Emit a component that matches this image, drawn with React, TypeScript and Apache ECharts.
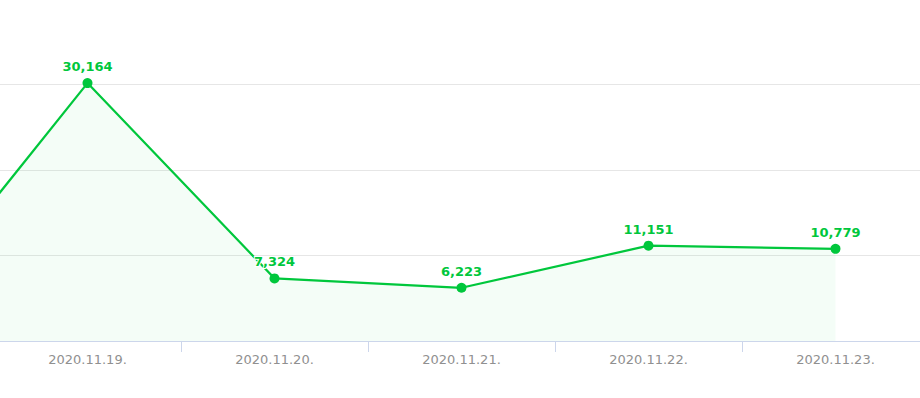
import React, { useEffect, useRef } from "react";
import * as echarts from "echarts";

const categories = ["2020.11.18.", "2020.11.19.", "2020.11.20.", "2020.11.21.", "2020.11.22.", "2020.11.23."];
const values = [2850, 30164, 7324, 6223, 11151, 10779];
const yMin = 0;
const yMax = 40000;
const yInterval = 10000;

export default function App() {
  const ref = useRef<HTMLDivElement>(null);
  useEffect(() => {
    document.body.style.margin = "0";
    const chart = echarts.init(ref.current!, null, { renderer: "svg" });
    chart.setOption({
      animation: false,
      grid: { left: 0, right: 0, top: 0, bottom: 57 },
      xAxis: {
        type: "category",
        data: categories,
        boundaryGap: true,
        axisLine: { lineStyle: { color: "#ccd6eb", width: 1 } },
        axisTick: { show: true, length: 11, lineStyle: { color: "#ccd6eb" } },
        axisLabel: {
          color: "#909090",
          fontSize: 13,
          fontFamily: "DejaVu Sans",
          margin: 12,
          interval: (i: number) => i > 0,
        },
        splitLine: { show: false },
      },
      yAxis: {
        type: "value",
        min: yMin,
        max: yMax,
        interval: yInterval,
        axisLabel: { show: false },
        axisLine: { show: false },
        axisTick: { show: false },
        splitLine: { lineStyle: { color: "#e6e6e6", width: 1 } },
      },
      series: [
        {
          type: "line",
          data: values.map((v, i) => (i === 0 ? { value: v, label: { show: false } } : v)),
          symbol: "circle",
          symbolSize: 10,
          showAllSymbol: true,
          lineStyle: { color: "#00c73c", width: 2.2 },
          itemStyle: { color: "#00c73c" },
          areaStyle: { color: "rgba(0,199,60,0.06)" },
          label: {
            show: true,
            position: "top",
            distance: 5,
            color: "#00c73c",
            fontSize: 13,
            fontWeight: "bold",
            fontFamily: "DejaVu Sans",
            textBorderColor: "#ffffff",
            textBorderWidth: 2,
            formatter: (p: any) => Number(p.value).toLocaleString("en-US"),
          },
        },
      ],
    });
    return () => chart.dispose();
  }, []);
  return (
    <div style={{ width: 920, height: 398, overflow: "hidden", position: "relative" }}>
      <div ref={ref} style={{ position: "absolute", left: -193, top: -1, width: 1122, height: 399 }} />
    </div>
  );
}
